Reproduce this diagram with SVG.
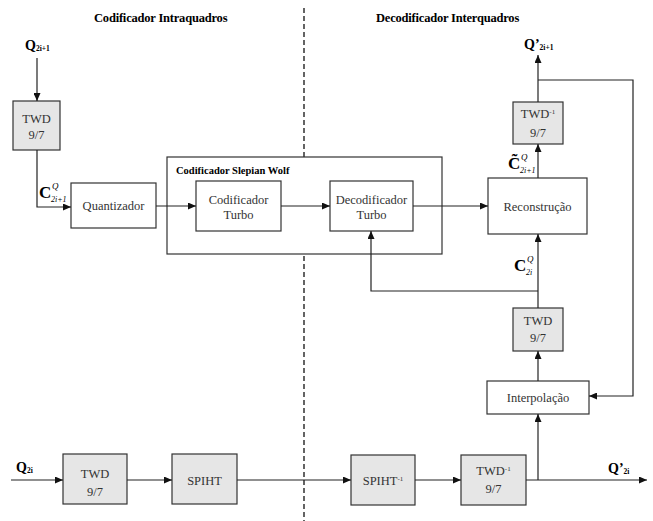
<svg xmlns="http://www.w3.org/2000/svg" width="653" height="521" viewBox="0 0 653 521" font-family="'Liberation Serif', 'DejaVu Serif', serif">
<style>
text{font-family:'Liberation Serif','DejaVu Serif',serif}
.box{fill:#ffffff;stroke:#333333;stroke-width:1.2}
.gbox{fill:#e6e6e6;stroke:#333333;stroke-width:1.2}
.t{font-size:12.5px;fill:#333333;text-anchor:middle}
.title{font-size:12.5px;font-weight:bold;fill:#000;letter-spacing:-0.2px}
.lbl{font-weight:bold;fill:#000}
.ln{fill:none;stroke:#222222;stroke-width:1.2}
.arr{fill:none;stroke:#222222;stroke-width:1.2;marker-end:url(#ah)}
</style>
<defs>
<marker id="ah" markerWidth="8" markerHeight="7" refX="8" refY="3.5" orient="auto" markerUnits="userSpaceOnUse">
<path d="M0,0 L8,3.5 L0,7 Z" fill="#111"/>
</marker>
</defs>
<rect width="653" height="521" fill="#ffffff"/>
<text class="title" x="94" y="22">Codificador Intraquadros</text>
<text class="title" x="376" y="22">Decodificador Interquadros</text>
<line x1="304" y1="8" x2="304" y2="521" stroke="#111" stroke-width="1.3" stroke-dasharray="5,3"/>

<g id="labels">
<text class="lbl" x="25" y="50" font-size="14">Q<tspan font-size="7.5" dy="1">2i+1</tspan></text>
<text class="lbl" x="524" y="49" font-size="14">Q’<tspan font-size="7.5" dy="1">2i+1</tspan></text>
<text class="lbl" x="16" y="472" font-size="14">Q<tspan font-size="7.5" dy="1">2i</tspan></text>
<text class="lbl" x="608" y="473" font-size="14">Q’<tspan font-size="7.5" dy="1">2i</tspan></text>
<g fill="#000">
<text x="39" y="198" font-size="17" font-weight="bold">C</text>
<text x="52" y="189" font-size="9" font-style="italic">Q</text>
<text x="51" y="202" font-size="8" font-style="italic">2i+1</text>
<text x="508" y="169" font-size="17" font-weight="bold">C̃</text>
<text x="521" y="160" font-size="9" font-style="italic">Q</text>
<text x="520" y="173" font-size="8" font-style="italic">2i+1</text>
<text x="514" y="271" font-size="17" font-weight="bold">C</text>
<text x="527" y="262" font-size="9" font-style="italic">Q</text>
<text x="526" y="275" font-size="8" font-style="italic">2i</text>
</g>
</g>

<g id="sw">
<rect class="box" x="167" y="157" width="275" height="97"/>
<text class="lbl" x="176" y="174" font-size="10.5">Codificador Slepian Wolf</text>
</g>

<g id="twd1">
<rect class="gbox" x="13" y="101" width="47" height="49"/>
<text class="t" x="36.5" y="123">TWD</text>
<text class="t" x="36.5" y="139">9/7</text>
</g>
<g id="quant">
<rect class="box" x="71" y="183" width="85" height="45"/>
<text class="t" x="113.5" y="210">Quantizador</text>
</g>
<g id="codturbo">
<rect class="box" x="196" y="181" width="85" height="50"/>
<text class="t" x="238.5" y="204">Codificador</text>
<text class="t" x="238.5" y="219">Turbo</text>
</g>
<g id="decturbo">
<rect class="box" x="330" y="181" width="83" height="50"/>
<text class="t" x="371.5" y="204">Decodificador</text>
<text class="t" x="371.5" y="219">Turbo</text>
</g>
<g id="recon">
<rect class="box" x="488" y="178" width="99" height="56"/>
<text class="t" x="537.5" y="211">Reconstrução</text>
</g>
<g id="itwd1">
<rect class="gbox" x="513" y="102" width="50" height="42"/>
<text class="t" x="538" y="118">TWD<tspan font-size="7" dy="-4">-1</tspan></text>
<text class="t" x="538" y="137">9/7</text>
</g>
<g id="twd2">
<rect class="gbox" x="513" y="308" width="50" height="43"/>
<text class="t" x="538" y="325">TWD</text>
<text class="t" x="538" y="342">9/7</text>
</g>
<g id="interp">
<rect class="box" x="487" y="381" width="102" height="33"/>
<text class="t" x="538" y="402">Interpolação</text>
</g>
<g id="twd3">
<rect class="gbox" x="63" y="454" width="64" height="50"/>
<text class="t" x="95" y="478">TWD</text>
<text class="t" x="95" y="496">9/7</text>
</g>
<g id="spiht">
<rect class="gbox" x="172" y="454" width="65" height="50"/>
<text class="t" x="204.5" y="485">SPIHT</text>
</g>
<g id="ispiht">
<rect class="gbox" x="351" y="455" width="64" height="50"/>
<text class="t" x="383" y="485">SPIHT<tspan font-size="7" dy="-4">-1</tspan></text>
</g>
<g id="itwd2">
<rect class="gbox" x="461" y="455" width="65" height="50"/>
<text class="t" x="493.5" y="475">TWD<tspan font-size="7" dy="-4">-1</tspan></text>
<text class="t" x="493.5" y="493">9/7</text>
</g>

<g id="connectors">
<line class="arr" x1="37" y1="58" x2="37" y2="101"/>
<polyline class="arr" points="37,150 37,207 71,207"/>
<line class="arr" x1="156" y1="206" x2="196" y2="206"/>
<line class="arr" x1="281" y1="206" x2="330" y2="206"/>
<line class="arr" x1="413" y1="206" x2="488" y2="206"/>
<line class="arr" x1="538" y1="178" x2="538" y2="144"/>
<line class="arr" x1="538" y1="102" x2="538" y2="55"/>
<polyline class="arr" points="538,80 633,80 633,396 589,396"/>
<line class="arr" x1="538" y1="308" x2="538" y2="234"/>
<polyline class="arr" points="538,291 371,291 371,231"/>
<line class="arr" x1="538" y1="381" x2="538" y2="351"/>
<line class="arr" x1="538" y1="480" x2="538" y2="414"/>
<line class="arr" x1="11" y1="480" x2="63" y2="480"/>
<line class="arr" x1="127" y1="480" x2="172" y2="480"/>
<line class="arr" x1="237" y1="480" x2="351" y2="480"/>
<line class="arr" x1="415" y1="480" x2="461" y2="480"/>
<line class="arr" x1="526" y1="480" x2="647" y2="480"/>
</g>
</svg>
